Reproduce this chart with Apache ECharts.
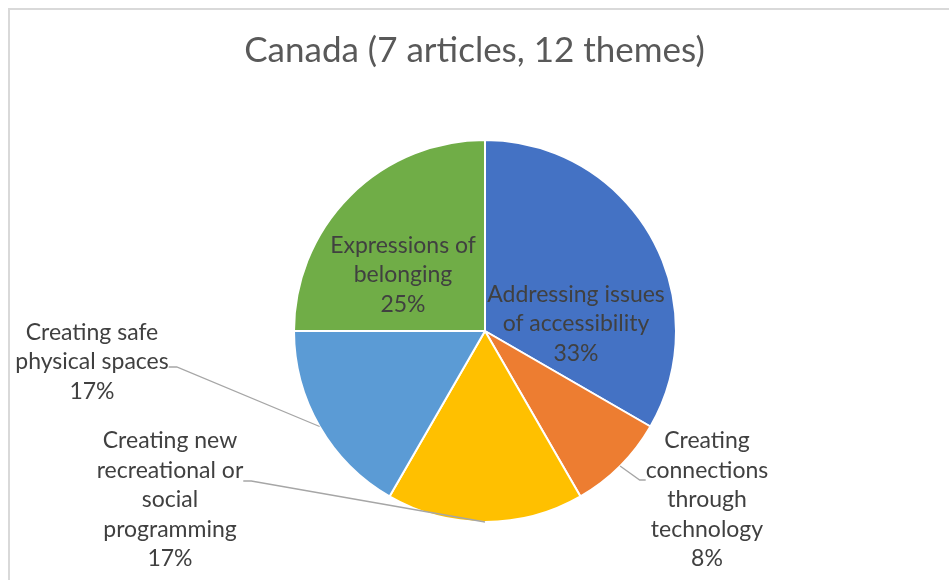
<!DOCTYPE html>
<html>
<head>
<meta charset="utf-8">
<script src="https://cdn.jsdelivr.net/npm/echarts@6/dist/echarts.min.js"></script>
<style>
  html, body { margin: 0; padding: 0; background: #ffffff; }
  #chart { width: 949px; height: 580px; }
</style>
</head>
<body>
<div id="chart"></div>
<script>
// Themes identified across the Canadian articles (line breaks as shown in the labels)
const themes = [
  'Addressing issues\nof accessibility',
  'Creating\nconnections\nthrough\ntechnology',
  'Creating new\nrecreational or\nsocial\nprogramming',
  'Creating safe\nphysical spaces',
  'Expressions of\nbelonging'
];
// Number of theme mentions (12 in total)
const themeCounts = [4, 1, 2, 2, 3];
const themeColors = ['#4472C4', '#ED7D31', '#FFC000', '#5B9BD5', '#70AD47'];
const chartTitle = 'Canada (7 articles, 12 themes)';

// Label placement: inside labels sit on the slice, outside ones get a leader line
const labelPlacement = [
  { inside: true,  x: 576, y: 324 },
  { inside: false, x: 707, y: 500, side: 'left',  lineY: 480 },
  { inside: false, x: 170, y: 500, side: 'right', lineY: 481 },
  { inside: false, x: 92,  y: 362, side: 'right', lineY: 367 },
  { inside: true,  x: 403, y: 275 }
];

const PIE_CENTER = [485, 331];
const PIE_RADIUS = 191;

const chart = echarts.init(document.getElementById('chart'), null, { renderer: 'canvas' });

const data = themes.map((name, i) => ({
  name: name,
  value: themeCounts[i],
  itemStyle: { color: themeColors[i] },
  label: { position: labelPlacement[i].inside ? 'inside' : 'outside' },
  labelLine: { show: !labelPlacement[i].inside }
}));

// Mid-angle point on the outer edge of a slice (clockwise from 12 o'clock)
function sliceEdgeMid(index) {
  const total = themeCounts.reduce((a, b) => a + b, 0);
  let before = 0;
  for (let k = 0; k < index; k++) before += themeCounts[k];
  const mid = (before + themeCounts[index] / 2) / total * Math.PI * 2;
  return [PIE_CENTER[0] + PIE_RADIUS * Math.sin(mid), PIE_CENTER[1] - PIE_RADIUS * Math.cos(mid)];
}

chart.setOption({
  backgroundColor: '#ffffff',
  animation: false,
  title: {
    text: chartTitle,
    left: 'center',
    top: 28,
    textStyle: {
      fontFamily: 'Lato',
      fontSize: 35,
      fontWeight: 'normal',
      color: '#595959'
    }
  },
  graphic: [{
    type: 'rect',
    shape: { x: 9, y: 9, width: 1200, height: 1200 },
    style: { fill: 'none', stroke: '#d9d9d9', lineWidth: 2 },
    silent: true,
    z: -1
  }],
  series: [{
    type: 'pie',
    center: PIE_CENTER,
    radius: PIE_RADIUS,
    startAngle: 90,
    clockwise: true,
    avoidLabelOverlap: false,
    data: data,
    itemStyle: { borderColor: '#ffffff', borderWidth: 2 },
    label: {
      show: true,
      fontFamily: 'Lato',
      fontSize: 23,
      lineHeight: 29.5,
      color: '#404040',
      align: 'center',
      formatter: p => p.name + '\n' + Math.round(p.percent) + '%'
    },
    labelLine: {
      show: true,
      showAbove: true,
      length: 10,
      length2: 10,
      lineStyle: { color: '#a6a6a6', width: 1.3 }
    },
    labelLayout: function (params) {
      const place = labelPlacement[params.dataIndex];
      const out = { x: place.x, y: place.y, align: 'center', verticalAlign: 'middle' };
      if (!place.inside) {
        const w = params.labelRect.width;
        const anchor = sliceEdgeMid(params.dataIndex);
        let end, bend;
        if (place.side === 'left') {
          end = [place.x - w / 2, place.lineY];
          bend = [end[0] - 6, end[1]];
        } else {
          end = [place.x + w / 2, place.lineY];
          bend = [end[0] + 8, end[1]];
        }
        out.labelLinePoints = [anchor, bend, end];
      }
      return out;
    }
  }]
});

// Leader lines are painted over the slices they point into
const zr = chart.getZr();
zr.storage.getDisplayList(true).forEach(el => {
  if (el.type === 'polyline') {
    el.z2 = 1000;
    el.markRedraw();
  }
});
zr.refreshImmediately();
</script>
</body>
</html>
